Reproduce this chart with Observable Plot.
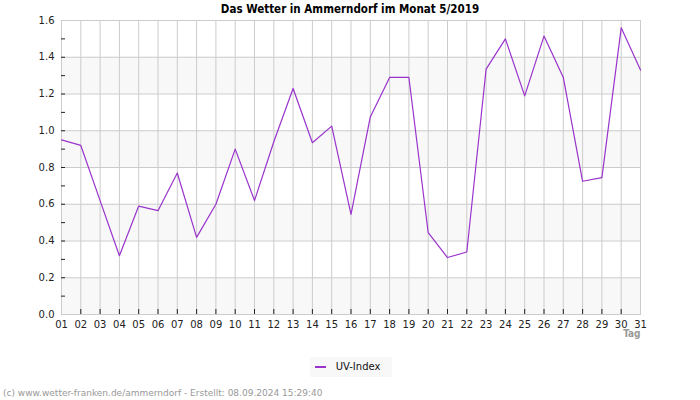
<!DOCTYPE html>
<html>
<head>
<meta charset="utf-8">
<script src="https://cdn.jsdelivr.net/npm/d3@7"></script>
<script src="https://cdn.jsdelivr.net/npm/@observablehq/plot@0.6"></script>
<style>
  html, body { margin: 0; padding: 0; background: #fff; }
  body { width: 700px; height: 400px; position: relative; overflow: hidden; font-family: "DejaVu Sans", sans-serif; }
  #title { position: absolute; left: 0; top: 0; width: 700px; height: 18px; line-height: 18px; text-align: center; font-family: "DejaVu Sans Condensed", "DejaVu Sans", sans-serif; font-weight: bold; font-size: 11.5px; color: #000; z-index: 2; }
  #chart svg { display: block; }
  #legend { position: absolute; left: 310px; top: 357px; width: 82px; height: 20px; background: #f8f8f8; }
  #legend .sw { position: absolute; left: 5px; top: 9px; width: 11px; height: 2px; background: #9933cc; }
  #legend .lb { position: absolute; left: 25.7px; top: 0; line-height: 20px; font-size: 10px; color: #111; white-space: nowrap; }
  #footer { position: absolute; left: 3px; top: 388px; line-height: 10px; font-size: 9px; color: #999; white-space: nowrap; }
</style>
</head>
<body>
<div id="chart"></div>
<div id="title">Das Wetter in Ammerndorf im Monat 5/2019</div>
<div id="legend"><div class="sw"></div><div class="lb">UV-Index</div></div>
<div id="footer">(c) www.wetter-franken.de/ammerndorf - Erstellt: 08.09.2024 15:29:40</div>
<script>
const days = d3.range(1, 32);
const uvIndex = [0.95, 0.92, 0.62, 0.32, 0.59, 0.565, 0.77, 0.42, 0.60, 0.90,
                 0.62, 0.94, 1.23, 0.935, 1.025, 0.545, 1.075, 1.29, 1.29, 0.445,
                 0.31, 0.34, 1.335, 1.50, 1.19, 1.515, 1.29, 0.725, 0.745, 1.56, 1.33];
const yTicks = [0, 0.2, 0.4, 0.6, 0.8, 1.0, 1.2, 1.4, 1.6];
const yMinorTicks = [0.1, 0.2, 0.3, 0.4, 0.5, 0.6, 0.7, 0.8, 0.9, 1.0, 1.1, 1.2, 1.3, 1.4, 1.5];
const xTickDays = d3.range(2, 31);
const bands = [[0, 0.2], [0.4, 0.6], [0.8, 1.0], [1.2, 1.4]];
const xLabel = "Tag";

const chart = Plot.plot({
  width: 700,
  height: 345,
  marginLeft: 61,
  marginRight: 60,
  marginTop: 20,
  marginBottom: 31,
  style: { fontFamily: "DejaVu Sans, sans-serif", fontSize: "10px", color: "#222", background: "#fff", overflow: "visible" },
  x: { type: "linear", domain: [1, 31] },
  y: { domain: [0, 1.6] },
  marks: [
    Plot.rect(bands, { x1: 1, x2: 31, y1: d => d[0], y2: d => d[1], fill: "#f8f8f8" }),
    Plot.gridX(days, { stroke: "#cccccc", strokeOpacity: 1 }),
    Plot.gridY(yTicks, { stroke: "#cccccc", strokeOpacity: 1 }),
    Plot.frame({ stroke: "#cccccc" }),
    Plot.ruleX(xTickDays, { x: d => d, y1: 0, y2: 0, insetTop: -5, stroke: "#222" }),
    Plot.ruleY(yMinorTicks, { y: d => d, x1: 1, x2: 1, insetRight: -4, stroke: "#222" }),
    Plot.lineY(uvIndex, { x: days, y: uvIndex, stroke: "#9933cc", strokeWidth: 1.2 }),
    Plot.axisY({ ticks: yTicks, tickFormat: d3.format(".1f"), tickSize: 0, tickPadding: 7, label: null }),
    Plot.axisX({ ticks: days, tickFormat: d => d3.format("02d")(d), tickSize: 0, tickPadding: 6, label: null }),
    Plot.text([xLabel], { frameAnchor: "bottom-right", textAnchor: "end", lineAnchor: "bottom", dy: 22,
                          text: d => d, fill: "#999", fontWeight: "bold",
                          fontFamily: "DejaVu Sans Condensed, DejaVu Sans, sans-serif", fontSize: 10 })
  ]
});
document.getElementById("chart").appendChild(chart);
</script>
</body>
</html>
